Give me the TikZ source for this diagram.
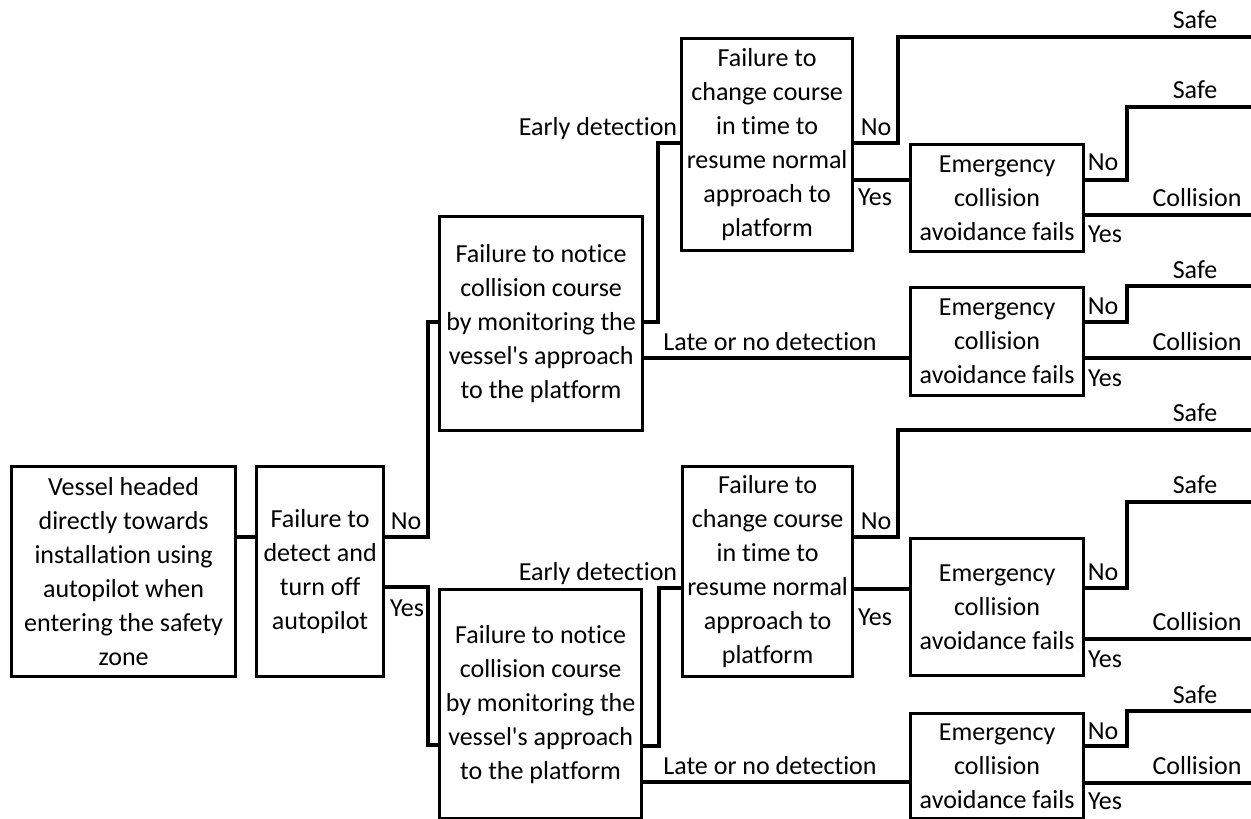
\documentclass[tikz,border=0pt]{standalone}
\usepackage{fontspec}
\newfontfamily\carl{Carlito}[Ligatures=NoCommon]
\begin{document}
\begin{tikzpicture}[x=1pt,y=-1pt,
  line width=3.2pt,
  box/.style={draw, line width=3.2pt, anchor=north west, inner sep=0pt,
    align=center, font=\carl\fontsize{26}{34}\selectfont},
  lbl/.style={anchor=base, inner sep=0pt, font=\carl\fontsize{26}{34}\selectfont}]
\useasboundingbox (0,0) rectangle (1251,819);

% event boxes
\node[box, minimum width=224pt, minimum height=210pt] (A) at (10,465)
  {Vessel headed\\directly towards\\installation using\\autopilot when\\entering the safety\\zone};
\node[box, minimum width=127pt, minimum height=210pt] (B) at (255,465)
  {Failure to\\detect and\\turn off\\autopilot};
\node[box, minimum width=203pt, minimum height=214pt] (T1) at (438,215)
  {Failure to notice\\collision course\\by monitoring the\\vessel's approach\\to the platform};
\node[box, minimum width=171pt, minimum height=212pt] (C1) at (680,37)
  {Failure to\\change course\\in time to\\resume normal\\approach to\\platform};
\node[box, minimum width=173pt, minimum height=107pt] (E1) at (909,143)
  {Emergency\\collision\\avoidance fails};
\node[box, minimum width=173pt, minimum height=108pt] (E2) at (909,286)
  {Emergency\\collision\\avoidance fails};
\node[box, minimum width=202pt, minimum height=229pt] (T2) at (438,588)
  {Failure to notice\\collision course\\by monitoring the\\vessel's approach\\to the platform};
\node[box, minimum width=170pt, minimum height=210pt] (C2) at (681,465)
  {Failure to\\change course\\in time to\\resume normal\\approach to\\platform};
\node[box, minimum width=173pt, minimum height=137pt] (E3) at (909,537)
  {Emergency\\collision\\avoidance fails};
\node[box, minimum width=173pt, minimum height=105pt] (E4) at (909,712)
  {Emergency\\collision\\avoidance fails};

% bend points and free ends of the branches
\coordinate (ab) at (0,537);
\coordinate (bn1) at (428,537);  \coordinate (bn2) at (428,322);
\coordinate (by1) at (428,587);  \coordinate (by2) at (428,745);
\coordinate (t1e1) at (658,322); \coordinate (t1e2) at (658,143);
\coordinate (t1l) at (0,358);
\coordinate (c1n1) at (898,143); \coordinate (c1n2) at (898,37);  \coordinate (c1nE) at (1251,37);
\coordinate (c1y) at (0,180);
\coordinate (e1n1) at (1127,180); \coordinate (e1n2) at (1127,107); \coordinate (e1nE) at (1251,107);
\coordinate (e1yE) at (1251,215);
\coordinate (e2n1) at (1127,322); \coordinate (e2n2) at (1127,286); \coordinate (e2nE) at (1251,286);
\coordinate (e2yE) at (1251,358);
\coordinate (t2e1) at (659,746); \coordinate (t2e2) at (659,588);
\coordinate (t2l) at (0,782);
\coordinate (c2n1) at (898,537); \coordinate (c2n2) at (898,430); \coordinate (c2nE) at (1251,430);
\coordinate (c2y) at (0,589);
\coordinate (e3n1) at (1127,588); \coordinate (e3n2) at (1127,502); \coordinate (e3nE) at (1251,502);
\coordinate (e3yE) at (1251,639);
\coordinate (e4n1) at (1127,746); \coordinate (e4n2) at (1127,711); \coordinate (e4nE) at (1251,711);
\coordinate (e4yE) at (1251,783);

% connectors
\draw (A.east |- ab) -- (B.west |- ab);
\draw (B.east |- bn1) -- (bn1) -- (bn2) -- (T1.west |- bn2);
\draw (B.east |- by1) -- (by1) -- (by2) -- (T2.west |- by2);
\draw (T1.east |- t1e1) -- (t1e1) -- (t1e2) -- (C1.west |- t1e2);
\draw (T1.east |- t1l) -- (E2.west |- t1l);
\draw (C1.east |- c1n1) -- (c1n1) -- (c1n2) -- (c1nE);
\draw (C1.east |- c1y) -- (E1.west |- c1y);
\draw (E1.east |- e1n1) -- (e1n1) -- (e1n2) -- (e1nE);
\draw (E1.east |- e1yE) -- (e1yE);
\draw (E2.east |- e2n1) -- (e2n1) -- (e2n2) -- (e2nE);
\draw (E2.east |- e2yE) -- (e2yE);
\draw (T2.east |- t2e1) -- (t2e1) -- (t2e2) -- (C2.west |- t2e2);
\draw (T2.east |- t2l) -- (E4.west |- t2l);
\draw (C2.east |- c2n1) -- (c2n1) -- (c2n2) -- (c2nE);
\draw (C2.east |- c2y) -- (E3.west |- c2y);
\draw (E3.east |- e3n1) -- (e3n1) -- (e3n2) -- (e3nE);
\draw (E3.east |- e3yE) -- (e3yE);
\draw (E4.east |- e4n1) -- (e4n1) -- (e4n2) -- (e4nE);
\draw (E4.east |- e4yE) -- (e4yE);

% branch labels
\node[lbl] (lbn) at (406,529) {No};
\node[lbl] (lby) at (407,616) {Yes};
\node[lbl] (l1) at (598,135) {Early detection};
\node[lbl] (l2) at (770,350) {Late or no detection};
\node[lbl] (l3) at (876,135) {No};
\node[lbl] (l4) at (875,205) {Yes};
\node[lbl] (l5) at (1103,170) {No};
\node[lbl] (l6) at (1105,242) {Yes};
\node[lbl] (l7) at (1195,28) {Safe};
\node[lbl] (l8) at (1195,98) {Safe};
\node[lbl] (l9) at (1197,206) {Collision};
\node[lbl] (l10) at (1103,314) {No};
\node[lbl] (l11) at (1195,278) {Safe};
\node[lbl] (l12) at (1197,350) {Collision};
\node[lbl] (l13) at (1105,386) {Yes};
\node[lbl] (l14) at (598,580) {Early detection};
\node[lbl] (l15) at (770,774) {Late or no detection};
\node[lbl] (l16) at (876,529) {No};
\node[lbl] (l17) at (875,625) {Yes};
\node[lbl] (l18) at (1195,421) {Safe};
\node[lbl] (l19) at (1195,493) {Safe};
\node[lbl] (l20) at (1103,580) {No};
\node[lbl] (l21) at (1197,630) {Collision};
\node[lbl] (l22) at (1105,667) {Yes};
\node[lbl] (l23) at (1195,703) {Safe};
\node[lbl] (l24) at (1103,739) {No};
\node[lbl] (l25) at (1197,774) {Collision};
\node[lbl] (l26) at (1105,809) {Yes};
\end{tikzpicture}
\end{document}
